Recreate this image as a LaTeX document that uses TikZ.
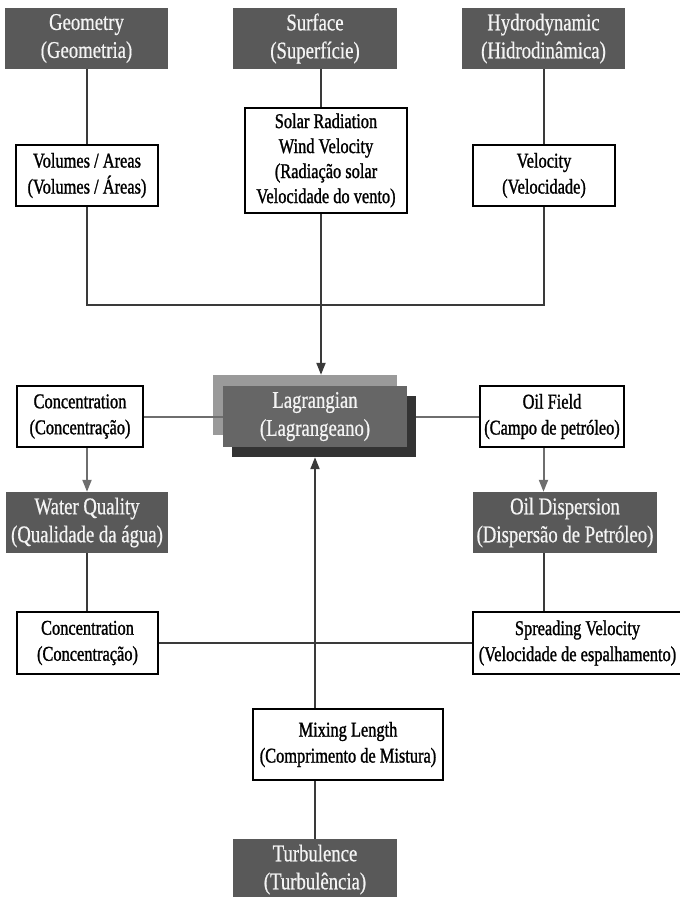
\documentclass[tikz,border=0pt]{standalone}
\usepackage{fontspec}
\setmainfont{Liberation Serif}[FakeStretch=0.78]
\newfontfamily\boxfont{Liberation Serif}[FakeStretch=0.78,FakeBold=1.2]
\newfontfamily\darkfont{Liberation Serif}[FakeStretch=0.78,FakeBold=0.6]
\usetikzlibrary{arrows.meta}
\definecolor{boxgray}{HTML}{595959}
\definecolor{boxtext}{HTML}{F4F4F4}
\definecolor{lagfront}{HTML}{666666}
\definecolor{lagback}{HTML}{9A9A9A}
\definecolor{lagshade}{HTML}{333333}
\definecolor{linedark}{HTML}{3A3A3A}
\definecolor{linegray}{HTML}{6E6E6E}
\begin{document}
\begin{tikzpicture}[x=1pt,y=-1pt,
  darkbox/.style={fill=boxgray,text=boxtext,inner sep=0pt,align=center,
    minimum height=61pt,font=\darkfont\fontsize{24}{28}\selectfont},
  whitebox/.style={draw=black,fill=white,line width=2pt,inner sep=0pt,align=center,
    minimum height=61pt,font=\boxfont\fontsize{21}{26}\selectfont},
  link/.style={draw=linedark,line width=2pt},
  softlink/.style={draw=linegray,line width=2pt},
  arrowed/.style={-{Triangle[length=12pt,width=9pt]}}]
  \useasboundingbox (0,0) rectangle (680,897);
  \node[darkbox,minimum width=163pt] (geom) at (86.5,38.5) {Geometry\\(Geometria)};
  \node[darkbox,minimum width=164pt] (surf) at (315,38.5) {Surface\\(Superfície)};
  \node[darkbox,minimum width=163pt] (hydro) at (543.5,38.5) {Hydrodynamic\\(Hidrodinâmica)};
  \node[whitebox,minimum width=142pt] (vol) at (87,175.5) {Volumes / Areas\\(Volumes / Áreas)};
  \node[whitebox,minimum width=162pt,minimum height=105pt,font=\boxfont\fontsize{21}{25}\selectfont]
    (solar) at (326,160.5) {Solar Radiation\\Wind Velocity\\(Radiação solar\\Velocidade do vento)};
  \node[whitebox,minimum width=142pt] (vel) at (544,175.5) {Velocity\\(Velocidade)};
  \coordinate (mid) at (321,305);
  \node[fill=lagback,inner sep=0pt,minimum width=184pt,minimum height=60pt] (lagbk) at (305,405) {};
  \node[fill=lagshade,inner sep=0pt,minimum width=184pt,minimum height=61pt] (lagsh) at (324,426.5) {};
  \node[darkbox,fill=lagfront,minimum width=184pt] (lag) at (315,416.5) {Lagrangian\\(Lagrangeano)};
  \node[whitebox,minimum width=126pt] (conc1) at (80,416.5) {Concentration\\(Concentração)};
  \node[whitebox,minimum width=144pt] (oilf) at (552,416.5) {Oil Field\\(Campo de petróleo)};
  \node[darkbox,minimum width=162pt] (wq) at (87,522.5) {Water Quality\\(Qualidade da água)};
  \node[darkbox,minimum width=184pt] (oild) at (565,522.5) {Oil Dispersion\\(Dispersão de Petróleo)};
  \node[whitebox,minimum width=141pt,minimum height=62pt] (conc2) at (87.5,643) {Concentration\\(Concentração)};
  \node[whitebox,minimum width=209pt,minimum height=62pt] (spread) at (577.5,643) {Spreading Velocity\\(Velocidade de espalhamento)};
  \node[whitebox,minimum width=190pt,minimum height=71pt] (mix) at (348,744.5) {Mixing Length\\(Comprimento de Mistura)};
  \node[darkbox,minimum width=164pt] (turb) at (315,869.5) {Turbulence\\(Turbulência)};
  \draw[link] (geom.south) -- (geom.south |- vol.north);
  \draw[link] (surf.south -| mid) -- (solar.north -| mid);
  \draw[link] (hydro.south) -- (hydro.south |- vel.north);
  \draw[link] (vol.south) -- (vol.south |- mid) -- (mid) -- (mid -| vel.south) -- (vel.south);
  \draw[link,arrowed] (solar.south -| mid) -- (lagbk.north -| mid);
  \draw[softlink] (conc1.east) -- (conc1.east -| lag.west);
  \draw[softlink] (lagsh.east |- oilf.west) -- (oilf.west);
  \draw[softlink,arrowed] (wq.north |- conc1.south) -- (wq.north);
  \draw[softlink,arrowed] (oilf.south -| hydro.south) -- (oild.north -| hydro.south);
  \draw[link] (wq.south) -- (wq.south |- conc2.north);
  \draw[link] (oild.south -| hydro.south) -- (spread.north -| hydro.south);
  \draw[link] (conc2.east) -- (spread.west);
  \draw[link] (turb.north) -- (turb.north |- mix.south);
  \draw[link,arrowed] (mix.north -| turb.north) -- (lagsh.south -| turb.north);
\end{tikzpicture}
\end{document}
